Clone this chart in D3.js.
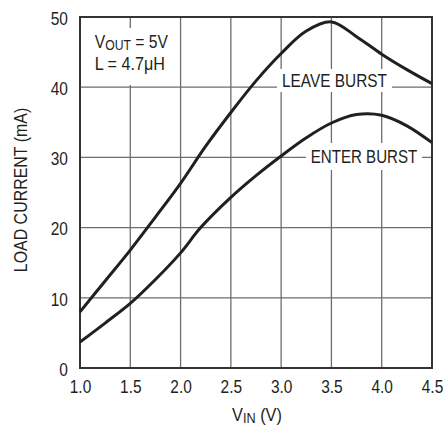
<!DOCTYPE html>
<html>
<head>
<meta charset="utf-8">
<script src="https://cdn.jsdelivr.net/npm/d3@7/dist/d3.min.js"></script>
<style>
  html, body { margin: 0; padding: 0; background: #fff; }
  svg text { font-family: "Liberation Sans Narrow", "Arial Narrow", "Liberation Sans", Arial, sans-serif; fill: #231f20; }
</style>
</head>
<body>
<svg id="chart" width="443" height="425"></svg>
<script>
// ---- data ----
const xTicks = [1.0, 1.5, 2.0, 2.5, 3.0, 3.5, 4.0, 4.5];
const yTicks = [0, 10, 20, 30, 40, 50];
const leaveVin = [1.0, 1.25, 1.5, 1.75, 2.0, 2.25, 2.5, 2.75, 3.0, 3.25, 3.5, 3.75, 4.0, 4.25, 4.5];
const leaveCurrent = [8.0, 12.4, 16.8, 21.5, 26.3, 31.6, 36.4, 40.9, 44.8, 48.0, 49.3, 47.2, 44.7, 42.5, 40.5];
const enterVin = [1.0, 1.25, 1.5, 1.75, 2.0, 2.2, 2.5, 2.75, 3.0, 3.25, 3.5, 3.75, 4.0, 4.25, 4.5];
const enterCurrent = [3.7, 6.4, 9.2, 12.6, 16.4, 20.0, 24.3, 27.4, 30.2, 32.8, 34.9, 36.1, 36.0, 34.5, 32.1];

(function () {
const svg = d3.select("#chart");
const pL = 80, pR = 432, pT = 17, pB = 368;
const x = d3.scaleLinear().domain([1.0, 4.5]).range([pL, pR]);
const y = d3.scaleLinear().domain([0, 50]).range([pB, pT]);
const INK = "#231f20";

// grid
const grid = svg.append("g");
grid.selectAll("line.v").data(xTicks.slice(1, -1)).join("line").attr("class", "v")
  .attr("x1", d => x(d)).attr("x2", d => x(d)).attr("y1", pT).attr("y2", pB)
  .attr("stroke", "#6d6d6d").attr("stroke-width", 1.3);
grid.selectAll("line.h").data(yTicks.slice(1, -1)).join("line").attr("class", "h")
  .attr("y1", d => y(d)).attr("y2", d => y(d)).attr("x1", pL).attr("x2", pR)
  .attr("stroke", "#6d6d6d").attr("stroke-width", 1.3);

// frame
svg.append("rect").attr("x", pL).attr("y", pT).attr("width", pR - pL).attr("height", pB - pT)
  .attr("fill", "none").attr("stroke", "#333").attr("stroke-width", 2);

// label backgrounds (white boxes over grid)
svg.append("rect").attr("x", 86).attr("y", 28).attr("width", 86).attr("height", 57).attr("fill", "#fff");
svg.append("rect").attr("x", 277).attr("y", 69).attr("width", 115).attr("height", 23).attr("fill", "#fff");
svg.append("rect").attr("x", 306).attr("y", 143).attr("width", 116).attr("height", 27).attr("fill", "#fff");

// curves
const line = d3.line().x(d => x(d[0])).y(d => y(d[1])).curve(d3.curveCatmullRom.alpha(0.5));
svg.append("path").datum(d3.zip(leaveVin, leaveCurrent)).attr("d", line)
  .attr("fill", "none").attr("stroke", INK).attr("stroke-width", 3);
svg.append("path").datum(d3.zip(enterVin, enterCurrent)).attr("d", line)
  .attr("fill", "none").attr("stroke", INK).attr("stroke-width", 3);

// axes (labels only, condensed)
const TS = 0.86;
const xAxis = svg.append("g").attr("transform", `translate(0,${pB})`)
  .call(d3.axisBottom(x).tickValues(xTicks).tickFormat(d3.format(".1f")).tickSize(0).tickPadding(12));
xAxis.select(".domain").remove();
xAxis.selectAll("text").attr("font-size", 18).attr("fill", INK).attr("font-family", null)
  .attr("transform", `scale(${TS},1)`);

const yAxis = svg.append("g").attr("transform", `translate(${pL},0)`)
  .call(d3.axisLeft(y).tickValues(yTicks).tickSize(0).tickPadding(14));
yAxis.select(".domain").remove();
yAxis.selectAll("text").attr("font-size", 18).attr("fill", INK).attr("dy", "0.4em").attr("font-family", null)
  .attr("transform", `scale(${TS},1)`);
svg.selectAll(".tick text").style("font-family", '"Liberation Sans Narrow", "Arial Narrow", "Liberation Sans", Arial, sans-serif');

// helper: place a text group condensed to a target width
function fitText(build, tx, ty, targetW, anchor, rot) {
  const g = svg.append("g");
  const t = g.append("text").attr("font-size", 18).attr("text-anchor", anchor || "start");
  build(t);
  const w = t.node().getBBox().width;
  const s = targetW / w;
  g.attr("transform", `translate(${tx},${ty})${rot ? ` rotate(${rot})` : ""} scale(${s},1)`);
  return t;
}

// axis titles
fitText(t => {
  t.append("tspan").text("V");
  t.append("tspan").attr("font-size", 14).attr("dy", 2).text("IN");
  t.append("tspan").attr("dy", -2).text(" (V)");
}, 232, 421, 50, "start");

fitText(t => {
  t.attr("font-size", 17.5).text("LOAD CURRENT (mA)");
}, 27, 190, 164.5, "middle", -90);

// annotation
fitText(t => {
  t.append("tspan").text("V");
  t.append("tspan").attr("font-size", 14).attr("dy", 2).text("OUT");
  t.append("tspan").attr("dy", -2).text(" = 5V");
}, 94.7, 48.3, 73.3, "start");
fitText(t => t.text("L = 4.7μH"), 94.7, 70, 70.3, "start");

fitText(t => t.text("LEAVE BURST"), 334.5, 86.7, 105, "middle");
fitText(t => t.text("ENTER BURST"), 364, 162.7, 106.7, "middle");
})();
</script>
</body>
</html>
